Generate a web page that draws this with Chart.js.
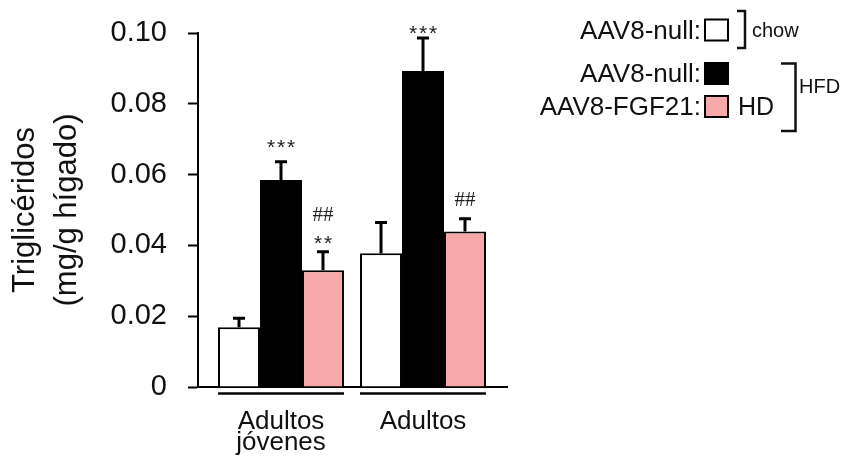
<!DOCTYPE html>
<html>
<head>
<meta charset="utf-8">
<script src="https://cdn.jsdelivr.net/npm/chart.js@4.4.0/dist/chart.umd.min.js"></script>
<style>
  html, body { margin: 0; padding: 0; background: #fff; }
  canvas { display: block; }
</style>
</head>
<body>
<canvas id="c" width="842" height="459"></canvas>
<script>
// ---- data ----
const categories = [['Adultos', 'jóvenes'], 'Adultos'];
const groupX = [1, 2];
const seriesLabels = ['AAV8-null:', 'AAV8-null:', 'AAV8-FGF21:'];
const chowMean = [0.0169, 0.0378];
const chowSem = [0.0025, 0.0087];
const hfdNullMean = [0.0585, 0.0893];
const hfdNullSem = [0.0051, 0.0093];
const hfdFgf21Mean = [0.0330, 0.0439];
const hfdFgf21Sem = [0.0052, 0.0036];
const yTickValues = [0, 0.02, 0.04, 0.06, 0.08, 0.10];
const yTickLabels = ['0', '0.02', '0.04', '0.06', '0.08', '0.10'];
// significance marks: [series index, group index, text]
const marks = [[1, 0, '***'], [2, 0, '**'], [2, 0, '##'], [1, 1, '***'], [2, 1, '##']];

// ---- styling ----
const FONT = '"Liberation Sans", Arial, Helvetica, sans-serif';
const PINK = '#F6A9A8';
const markLift = [20, 14, 37, 10, 19];

function series(label, means, sem, fill) {
  return {
    label: label,
    data: groupX.map((x, i) => ({ x: x, y: means[i] })),
    means: means,
    sem: sem,
    backgroundColor: fill,
    borderColor: '#000',
    borderWidth: 2,
    borderSkipped: 'bottom',
    categoryPercentage: 0.887,
    barPercentage: 1.0
  };
}

// upward SEM whiskers
const errorBars = {
  id: 'errorBars',
  afterDatasetsDraw(chart) {
    const ctx = chart.ctx;
    const y = chart.scales.y;
    ctx.save();
    ctx.strokeStyle = '#000';
    ctx.lineWidth = 3;
    chart.data.datasets.forEach((ds, di) => {
      chart.getDatasetMeta(di).data.forEach((bar, i) => {
        const top = y.getPixelForValue(ds.means[i] + ds.sem[i]);
        ctx.beginPath();
        ctx.moveTo(bar.x, bar.y);
        ctx.lineTo(bar.x, top);
        ctx.moveTo(bar.x - 6, top);
        ctx.lineTo(bar.x + 6, top);
        ctx.stroke();
      });
    });
    ctx.restore();
  }
};

// group underlines, significance marks and the bracketed legend
const decorations = {
  id: 'decorations',
  afterDraw(chart) {
    const ctx = chart.ctx;
    const y = chart.scales.y;
    const ds = chart.data.datasets;
    const bottom = chart.chartArea.bottom;
    ctx.save();

    // line beneath each group of bars
    ctx.strokeStyle = '#000';
    ctx.lineWidth = 2.5;
    groupX.forEach((_, g) => {
      const first = chart.getDatasetMeta(0).data[g];
      const last = chart.getDatasetMeta(ds.length - 1).data[g];
      ctx.beginPath();
      ctx.moveTo(first.x - first.width / 2, bottom + 6.5);
      ctx.lineTo(last.x + last.width / 2, bottom + 6.5);
      ctx.stroke();
    });

    // significance marks above the whiskers
    ctx.fillStyle = '#222';
    ctx.textAlign = 'center';
    marks.forEach((m, k) => {
      const [s, g, text] = m;
      const bar = chart.getDatasetMeta(s).data[g];
      const top = y.getPixelForValue(ds[s].means[g] + ds[s].sem[g]);
      const cy = top - markLift[k];
      if (text[0] === '*') {
        ctx.font = '21px ' + FONT;
        ctx.textBaseline = 'alphabetic';
        const n = text.length;
        for (let j = 0; j < n; j++) {
          ctx.fillText('*', bar.x + (j - (n - 1) / 2) * 10, cy + 12.5);
        }
      } else {
        ctx.font = '21px "Liberation Serif", "Times New Roman", serif';
        ctx.textBaseline = 'middle';
        ctx.fillText(text, bar.x, cy + 1);
      }
    });

    // legend rows: label, swatch
    const baselines = [38.5, 82, 115];
    ctx.font = '26px ' + FONT;
    ctx.textAlign = 'right';
    ctx.textBaseline = 'alphabetic';
    ds.forEach((d, i) => {
      ctx.fillStyle = '#111';
      ctx.fillText(d.label, 701, baselines[i]);
      ctx.fillStyle = d.backgroundColor;
      ctx.fillRect(705, baselines[i] - 19, 23, 21);
      ctx.strokeStyle = '#000';
      ctx.lineWidth = 2;
      ctx.strokeRect(705, baselines[i] - 19, 23, 21);
    });

    // diet brackets
    ctx.lineWidth = 2.5;
    ctx.strokeStyle = '#111';
    ctx.beginPath();
    ctx.moveTo(737, 11); ctx.lineTo(745, 11); ctx.lineTo(745, 48); ctx.lineTo(737, 48);
    ctx.moveTo(781, 63.5); ctx.lineTo(795.5, 63.5); ctx.lineTo(795.5, 131); ctx.lineTo(781, 131);
    ctx.stroke();

    ctx.fillStyle = '#111';
    ctx.textAlign = 'left';
    ctx.font = '20px ' + FONT;
    ctx.fillText('chow', 752, 36.5);
    ctx.fillText('HFD', 799, 93);
    ctx.font = '25px ' + FONT;
    ctx.fillText('HD', 738, 115);
    ctx.restore();
  }
};

new Chart(document.getElementById('c'), {
  type: 'bar',
  data: {
    datasets: [
      series(seriesLabels[0], chowMean, chowSem, '#ffffff'),
      series(seriesLabels[1], hfdNullMean, hfdNullSem, '#000000'),
      series(seriesLabels[2], hfdFgf21Mean, hfdFgf21Sem, PINK)
    ]
  },
  options: {
    responsive: false,
    animation: false,
    devicePixelRatio: 1,
    layout: { padding: { left: 0, top: 33, right: 335, bottom: 0 } },
    plugins: { legend: { display: false }, tooltip: { enabled: false } },
    scales: {
      x: {
        type: 'linear',
        min: 0.4155,
        max: 2.5915,
        offset: false,
        bounds: 'data',
        grid: { display: false, drawTicks: false, offset: false },
        border: { display: true, color: '#000', width: 2 },
        afterBuildTicks(scale) { scale.ticks = groupX.map(v => ({ value: v })); },
        afterFit(scale) { scale.height = 72; scale.paddingLeft = 0; scale.paddingRight = 0; },
        ticks: {
          color: '#111',
          padding: 24,
          maxRotation: 0,
          autoSkip: false,
          font: { family: FONT, size: 26, lineHeight: 0.82 },
          callback: (v) => categories[groupX.indexOf(v)]
        }
      },
      y: {
        min: 0,
        max: 0.1,
        grid: { drawOnChartArea: false, drawTicks: true, tickLength: 10, tickWidth: 2, tickColor: '#000' },
        border: { display: true, color: '#000', width: 2 },
        afterBuildTicks(scale) { scale.ticks = yTickValues.map(v => ({ value: v })); },
        afterFit(scale) { scale.width = 198; scale.paddingTop = 0; scale.paddingBottom = 0; },
        ticks: {
          color: '#111',
          padding: 21,
          font: { family: FONT, size: 29 },
          callback: (v) => yTickLabels[yTickValues.findIndex(t => Math.abs(t - v) < 1e-9)]
        },
        title: {
          display: true,
          text: ['Triglicéridos', '(mg/g hígado)'],
          color: '#111',
          font: { family: FONT, size: 31, lineHeight: 1.355 },
          padding: { top: 4, bottom: 0 }
        }
      }
    }
  },
  plugins: [errorBars, decorations]
});
</script>
</body>
</html>
